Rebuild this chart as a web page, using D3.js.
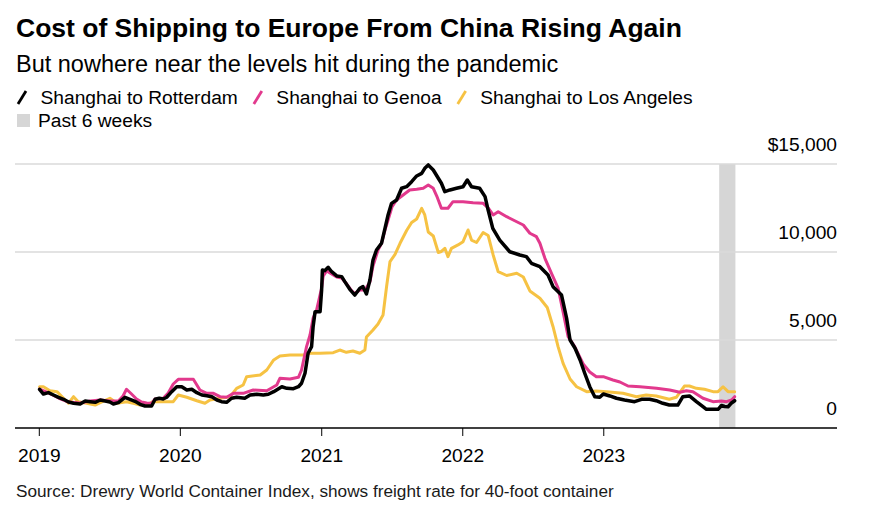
<!DOCTYPE html>
<html>
<head>
<meta charset="utf-8">
<script src="https://cdn.jsdelivr.net/npm/d3@7"></script>
<style>
  html, body { margin: 0; padding: 0; background: #fff; }
  svg { display: block; font-family: "Liberation Sans", Arial, sans-serif; }
</style>
</head>
<body>
<svg id="chart" width="872" height="525"></svg>
<script>
// ---------- data ----------
const titleText = "Cost of Shipping to Europe From China Rising Again";
const subtitleText = "But nowhere near the levels hit during the pandemic";
const sourceText = "Source: Drewry World Container Index, shows freight rate for 40-foot container";
const seriesNames = ["Shanghai to Rotterdam", "Shanghai to Genoa", "Shanghai to Los Angeles"];
const bandLabel = "Past 6 weeks";
const bandDates = ["2023-10-28", "2023-12-09"];
const yearTicks = ["2019-01-01", "2020-01-01", "2021-01-01", "2022-01-01", "2023-01-01"];
const yTickValues = [0, 5000, 10000, 15000];
const yTickLabels = ["0", "5,000", "10,000", "$15,000"];

const rotterdam = [
["2019-01-03",2200],["2019-01-13",1930],["2019-01-26",2010],["2019-02-08",1875],["2019-02-21",1745],["2019-03-06",1630],["2019-03-19",1475],["2019-04-01",1405],["2019-04-18",1365],["2019-05-01",1535],["2019-05-14",1495],["2019-05-27",1460],["2019-06-09",1590],["2019-06-22",1535],["2019-07-04",1475],["2019-07-13",1365],["2019-07-26",1440],["2019-08-12",1745],["2019-08-25",1630],["2019-09-07",1515],["2019-09-20",1345],["2019-10-03",1250],["2019-10-20",1250],["2019-10-29",1630],["2019-11-09",1690],["2019-11-19",1650],["2019-11-28",1745],["2019-12-11",2065],["2019-12-24",2345],
["2020-01-06",2345],["2020-01-19",2160],["2020-02-01",2200],["2020-02-14",2005],["2020-02-27",1875],["2020-03-11",1835],["2020-03-24",1780],["2020-04-06",1590],["2020-04-18",1495],["2020-05-01",1460],["2020-05-14",1690],["2020-05-27",1745],["2020-06-17",1690],["2020-07-01",1875],["2020-07-18",1915],["2020-08-04",1875],["2020-08-17",1915],["2020-08-31",2065],["2020-09-21",2345],["2020-10-04",2255],["2020-10-21",2235],["2020-11-03",2345],["2020-11-11",2540],["2020-11-20",3110],["2020-11-28",4245],["2020-12-07",4620],["2020-12-11",5755],["2020-12-16",6610],["2020-12-29",6610],
["2021-01-02",7840],["2021-01-04",8980],["2021-01-10",8940],["2021-01-19",9130],["2021-01-28",8880],["2021-02-10",8640],["2021-02-23",8600],["2021-03-03",8315],["2021-03-16",7880],["2021-03-29",7555],["2021-04-11",7940],["2021-04-19",8030],["2021-04-28",7615],["2021-05-07",8410],["2021-05-15",9545],["2021-05-24",10115],["2021-06-06",10495],["2021-06-15",11345],["2021-06-23",12105],["2021-07-02",12765],["2021-07-15",12955],["2021-07-28",13620],["2021-08-10",13710],["2021-08-23",13995],["2021-09-05",14320],["2021-09-18",14470],["2021-09-26",14755],["2021-10-05",14945],["2021-10-18",14660],["2021-10-31",14190],["2021-11-08",13905],["2021-11-17",13425],["2021-11-30",13525],["2021-12-17",13620],
["2022-01-03",13710],["2022-01-14",14090],["2022-01-25",13710],["2022-02-15",13620],["2022-03-01",13145],["2022-03-09",12385],["2022-03-21",11345],["2022-04-08",10680],["2022-05-04",10015],["2022-05-30",9830],["2022-06-16",9735],["2022-06-29",9360],["2022-07-21",9165],["2022-08-11",8695],["2022-08-24",8030],["2022-09-15",7555],["2022-09-28",6250],["2022-10-07",5000],["2022-10-20",4530],["2022-11-02",3865],["2022-11-14",3110],["2022-11-27",2345],["2022-12-10",1780],["2022-12-23",1745],
["2023-01-01",1930],["2023-01-18",1820],["2023-02-04",1690],["2023-02-25",1590],["2023-03-23",1495],["2023-04-10",1630],["2023-05-01",1630],["2023-05-18",1550],["2023-06-04",1405],["2023-06-21",1305],["2023-07-13",1305],["2023-07-26",1780],["2023-08-12",1820],["2023-08-30",1495],["2023-09-16",1210],["2023-09-25",1060],["2023-10-25",1060],["2023-11-03",1280],["2023-11-11",1220],["2023-11-20",1210],["2023-11-28",1405],["2023-12-07",1550]
];

const genoa = [
["2019-01-03",2215],["2019-01-26",1990],["2019-02-21",1705],["2019-03-19",1475],["2019-04-18",1420],["2019-05-14",1535],["2019-06-09",1590],["2019-07-04",1535],["2019-07-26",1535],["2019-08-07",1820],["2019-08-16",2200],["2019-08-29",1930],["2019-09-11",1650],["2019-09-24",1475],["2019-10-07",1420],["2019-10-20",1405],["2019-10-29",1650],["2019-11-19",1690],["2019-12-02",1990],["2019-12-15",2500],["2019-12-28",2765],
["2020-01-19",2765],["2020-02-05",2765],["2020-02-22",2160],["2020-03-11",1970],["2020-03-28",1970],["2020-04-14",1780],["2020-05-01",1745],["2020-05-19",1970],["2020-06-13",1970],["2020-07-09",2160],["2020-08-13",2120],["2020-09-08",2445],["2020-09-16",2825],["2020-10-12",2785],["2020-11-03",2880],["2020-11-11",3295],["2020-11-24",4620],["2020-12-03",5285],["2020-12-11",6250],["2020-12-20",6705],
["2021-01-02",7955],["2021-01-06",8635],["2021-01-15",8920],["2021-01-28",8750],["2021-02-10",8580],["2021-02-23",8525],["2021-03-08",8180],["2021-03-21",7785],["2021-03-29",7640],["2021-04-11",7840],["2021-04-24",7840],["2021-05-07",8295],["2021-05-15",9205],["2021-05-28",10115],["2021-06-06",10495],["2021-06-15",11250],["2021-06-23",11820],["2021-07-03",12555],["2021-07-15",12955],["2021-08-01",13240],["2021-08-18",13525],["2021-09-05",13565],["2021-09-22",13620],["2021-10-05",13805],["2021-10-18",13620],["2021-10-27",13180],["2021-11-08",12485],["2021-11-25",12485],["2021-12-08",12860],
["2022-01-03",12860],["2022-01-29",12800],["2022-02-24",12765],["2022-03-09",12500],["2022-03-22",12105],["2022-04-04",12290],["2022-04-26",12005],["2022-05-22",11720],["2022-06-08",11535],["2022-06-25",11065],["2022-07-12",10870],["2022-07-21",10495],["2022-08-03",9640],["2022-08-20",8790],["2022-09-06",7955],["2022-09-19",6590],["2022-10-02",5190],["2022-10-19",4620],["2022-11-10",3635],["2022-11-27",3180],["2022-12-14",2915],
["2023-01-01",2915],["2023-01-26",2725],["2023-02-13",2615],["2023-03-06",2385],["2023-04-06",2345],["2023-05-19",2255],["2023-06-22",2160],["2023-07-18",2030],["2023-08-04",2120],["2023-08-21",2065],["2023-09-16",1690],["2023-10-12",1495],["2023-11-03",1535],["2023-11-16",1495],["2023-11-29",1590],["2023-12-07",1780]
];

const losAngeles = [
["2019-01-03",2345],["2019-01-13",2345],["2019-01-30",2120],["2019-02-17",2065],["2019-03-06",1690],["2019-03-19",1405],["2019-04-01",1780],["2019-04-13",1495],["2019-05-05",1405],["2019-05-27",1305],["2019-06-09",1440],["2019-07-04",1690],["2019-07-22",1405],["2019-08-16",1495],["2019-09-03",1405],["2019-09-20",1305],["2019-10-07",1305],["2019-10-24",1495],["2019-11-28",1495],["2019-12-15",1495],["2019-12-28",1875],
["2020-01-19",1745],["2020-02-14",1550],["2020-03-06",1405],["2020-03-19",1590],["2020-04-14",1690],["2020-05-10",1780],["2020-05-27",2255],["2020-06-13",2445],["2020-06-22",2915],["2020-07-27",3010],["2020-08-13",3295],["2020-08-31",3865],["2020-09-16",4090],["2020-10-12",4150],["2020-11-16",4150],["2020-12-03",4245],["2020-12-29",4245],
["2021-02-01",4280],["2021-02-18",4430],["2021-03-07",4300],["2021-03-24",4375],["2021-04-11",4245],["2021-04-24",4430],["2021-04-28",5170],["2021-05-15",5570],["2021-05-28",5910],["2021-06-10",6420],["2021-06-19",8010],["2021-06-28",9460],["2021-07-11",9860],["2021-07-24",10495],["2021-08-10",11220],["2021-08-23",11675],["2021-09-05",11875],["2021-09-18",12485],["2021-09-26",12105],["2021-10-05",11135],["2021-10-18",10910],["2021-10-31",9970],["2021-11-08",10030],["2021-11-17",10210],["2021-11-25",9735],["2021-12-04",10210],["2021-12-21",10400],
["2022-01-03",10585],["2022-01-16",11250],["2022-01-25",10680],["2022-02-07",10540],["2022-02-24",11110],["2022-03-09",10940],["2022-03-22",9830],["2022-04-04",8880],["2022-04-26",8665],["2022-05-22",8790],["2022-06-08",8580],["2022-06-25",7785],["2022-07-21",7370],["2022-08-09",6845],["2022-08-24",5755],["2022-09-06",4620],["2022-09-19",3675],["2022-10-07",2785],["2022-10-24",2345],["2022-11-19",2065],["2022-12-14",2100],
["2023-01-09",2065],["2023-02-21",1970],["2023-03-28",1780],["2023-04-22",1875],["2023-05-18",1820],["2023-06-21",1630],["2023-07-09",1745],["2023-07-30",2385],["2023-08-12",2385],["2023-08-30",2255],["2023-09-20",2200],["2023-10-12",2065],["2023-10-25",2065],["2023-11-07",2345],["2023-11-20",2065],["2023-12-07",2065]
];

// ---------- layout / style ----------
const colors = ["#000000", "#e2398d", "#f6c243"];
const widths = [3.5, 3, 3];
const parse = d3.timeParse("%Y-%m-%d");

const svg = d3.select("#chart");
const plotLeft = 15, plotRight = 837;

const x = d3.scaleTime()
  .domain([new Date(2019, 0, 1), new Date(2024, 0, 1)])
  .range([38.8, 744.3]);
const y = d3.scaleLinear().domain([0, 15000]).range([428, 164]);

// titles
svg.append("text").attr("x", 16).attr("y", 37)
  .attr("font-size", 26.5).attr("font-weight", "bold").attr("fill", "#000")
  .text(titleText);
svg.append("text").attr("x", 16).attr("y", 72)
  .attr("font-size", 23.5).attr("fill", "#000")
  .text(subtitleText);

// legend row 1
let lx = 17;
const legendY = 104;
seriesNames.forEach((name, i) => {
  svg.append("line")
    .attr("x1", lx + 1).attr("y1", legendY)
    .attr("x2", lx + 9).attr("y2", legendY - 13)
    .attr("stroke", colors[i]).attr("stroke-width", 2.8);
  const t = svg.append("text").attr("x", lx + 23.5).attr("y", legendY)
    .attr("font-size", 19.2).attr("fill", "#000").text(name);
  lx = lx + 23.5 + t.node().getComputedTextLength() + 15;
});
// legend row 2
svg.append("rect").attr("x", 17).attr("y", 114).attr("width", 13).attr("height", 13)
  .attr("fill", "#d6d6d6");
svg.append("text").attr("x", 38).attr("y", 127)
  .attr("font-size", 19.2).attr("fill", "#000").text(bandLabel);

// band
svg.append("rect")
  .attr("x", x(parse(bandDates[0])))
  .attr("y", y(15000))
  .attr("width", x(parse(bandDates[1])) - x(parse(bandDates[0])))
  .attr("height", y(0) - y(15000))
  .attr("fill", "#d6d6d6");

// gridlines + y labels
yTickValues.forEach((v, i) => {
  if (v > 0) {
    svg.append("line")
      .attr("x1", plotLeft).attr("x2", plotRight)
      .attr("y1", y(v)).attr("y2", y(v))
      .attr("stroke", "#dadada").attr("stroke-width", 1.5);
  }
  svg.append("text")
    .attr("x", plotRight).attr("y", y(v) - 13)
    .attr("text-anchor", "end").attr("font-size", 19.2).attr("fill", "#000")
    .text(yTickLabels[i]);
});

// lines
const line = d3.line()
  .x(d => x(parse(d[0])))
  .y(d => y(d[1]));
const seriesData = [rotterdam, genoa, losAngeles];
[2, 1, 0].forEach(i => {
  svg.append("path")
    .datum(seriesData[i])
    .attr("d", line)
    .attr("fill", "none")
    .attr("stroke", colors[i])
    .attr("stroke-width", widths[i])
    .attr("stroke-linejoin", "round")
    .attr("stroke-linecap", "round");
});

// x axis
const xAxis = d3.axisBottom(x)
  .tickValues(yearTicks.map(parse))
  .tickFormat(d3.timeFormat("%Y"))
  .tickSize(8)
  .tickPadding(12);
const gx = svg.append("g").attr("transform", `translate(0,${y(0)})`).call(xAxis);
gx.select(".domain").remove();
gx.selectAll(".tick line").attr("stroke", "#000").attr("stroke-width", 1);
gx.selectAll(".tick text").attr("font-size", 19.2).attr("fill", "#000")
  .attr("font-family", "Liberation Sans, Arial, sans-serif");
svg.append("line")
  .attr("x1", plotLeft).attr("x2", plotRight)
  .attr("y1", y(0)).attr("y2", y(0))
  .attr("stroke", "#000").attr("stroke-width", 1.5);

// source
svg.append("text").attr("x", 16).attr("y", 497)
  .attr("font-size", 17.2).attr("fill", "#1a1a1a")
  .text(sourceText);
</script>
</body>
</html>
